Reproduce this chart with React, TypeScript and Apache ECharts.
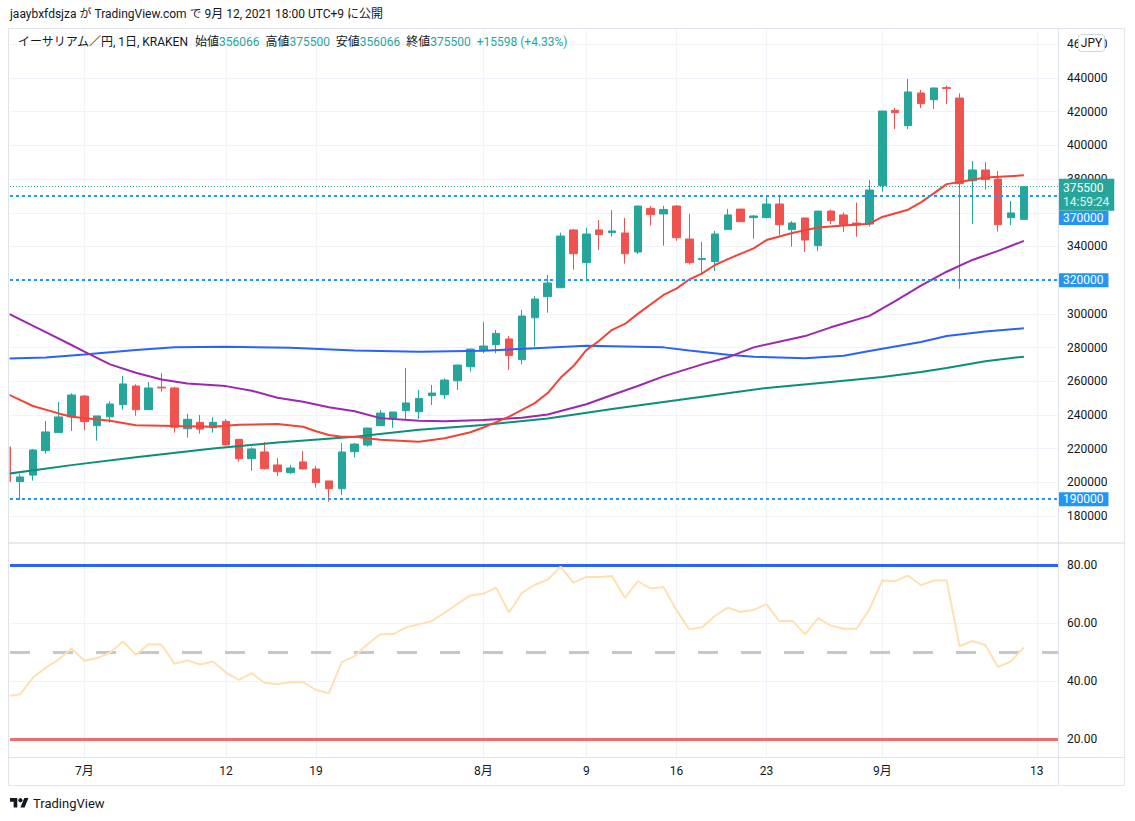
import React, { useEffect, useRef } from 'react';
import * as echarts from 'echarts';

const FONT = "Roboto, 'Noto Sans CJK JP', sans-serif";

// Day index k: 0 = 2021-06-25 ... 79 = 2021-09-12
const opens = [221000, 200400, 204300, 218800, 229500, 238900, 251200, 233600, 238900, 246100,
  257200, 243100, 256500, 256000, 231800, 235600, 232400, 236200, 225500, 214000,
  218000, 210300, 205700, 212100, 207900, 200800, 196200, 218200, 222100, 233600,
  237800, 242500, 241900, 251400, 252000, 260300, 268600, 278500, 281700, 285100,
  272800, 297700, 310200, 315500, 349800, 330400, 349800, 348200, 348000, 336700,
  362600, 359300, 364000, 344400, 332200, 331000, 350000, 362200, 357100, 357100,
  365200, 350000, 356900, 340500, 361000, 358700, 353900, 353300, 376100, 420800,
  411700, 431100, 427100, 434300, 428100, 379000, 385400, 380000, 357100, 356066];
const closes = [200400, 203200, 219200, 229900, 238800, 251800, 236000, 239400, 246500, 258400,
  243100, 256000, 256000, 232700, 237400, 231600, 235600, 222200, 214000, 219800,
  208100, 206300, 208500, 207900, 199800, 196200, 218000, 222700, 232200, 241100,
  241700, 247100, 249800, 253000, 260700, 269600, 279100, 280900, 288400, 275200,
  298700, 308800, 318300, 346200, 335700, 347400, 347000, 349200, 335700, 364000,
  358900, 362000, 345200, 330400, 332800, 347400, 358700, 354700, 358100, 365200,
  352900, 353900, 343800, 361000, 355300, 352900, 352700, 373500, 420400, 419400,
  431700, 424800, 434100, 433700, 377300, 385400, 379700, 352900, 359902, 375500];
const lows = [200000, 189500, 201000, 217000, 229500, 230500, 231000, 224700, 235400, 243100,
  239500, 243100, 253800, 229500, 226500, 228900, 229500, 221600, 212200, 206900,
  207500, 203700, 204800, 207500, 196800, 188500, 192500, 214800, 221200, 233600,
  232400, 237600, 237600, 245900, 249500, 254800, 265700, 276600, 276600, 266700,
  270000, 280500, 300700, 315500, 326200, 320300, 337900, 345800, 329800, 335500,
  352300, 340500, 343400, 329200, 324100, 325600, 350000, 354700, 344600, 356700,
  346800, 339900, 336700, 337300, 353300, 348600, 345800, 351800, 372500, 409700,
  409700, 422200, 421600, 424600, 314900, 353300, 373700, 348800, 352700, 356066];
const highs = [221500, 205000, 219800, 236400, 247700, 252800, 251800, 239400, 248100, 263100,
  258200, 259500, 264900, 256800, 240600, 240000, 238600, 237600, 225500, 220800,
  223900, 214400, 210300, 218600, 209700, 200800, 223300, 223300, 232300, 242900,
  241800, 267900, 254800, 257800, 261700, 269700, 279200, 295200, 290400, 286900,
  302300, 310600, 323100, 348200, 350400, 351000, 355700, 361600, 356900, 364100,
  364100, 364100, 364600, 359300, 342700, 349200, 362300, 362300, 358700, 370200,
  369600, 355100, 356900, 361100, 361800, 360100, 366000, 379500, 420500, 422200,
  439400, 432900, 434100, 435500, 430900, 390700, 390100, 384800, 367000, 375500];

const ma20Days = [0, 2, 4, 5, 8, 10, 13, 16, 18, 21, 23, 24, 25, 26, 27, 29, 32, 34, 36, 37,
  39, 41, 42, 43, 44, 45, 46, 47, 48, 49, 51, 52, 53, 54, 55, 56, 58, 59, 61, 63,
  65, 67, 68, 70, 71, 72, 73, 74, 76, 79];
const ma20Vals = [252500, 245300, 240900, 238960, 236500, 233900, 233400, 233000, 234100, 234600,
  233000, 230300, 228100, 227100, 227000, 225200, 224100, 226100, 229700, 232500,
  239000, 247000, 253000, 262000, 269000, 278500, 284000, 290500, 294000, 300000,
  311200, 315000, 320400, 324000, 329000, 332500, 338900, 343800, 348000, 351200,
  352500, 353500, 357500, 361800, 366200, 371500, 377000, 378300, 380900, 382200];
const ma50Days = [0, 3, 5, 6, 8, 10, 12, 14, 17, 19, 21, 23, 25, 27, 29, 32, 34, 37, 40, 42,
  45, 47, 49, 51, 54, 56, 58, 62, 64, 67, 69, 71, 73, 75, 77, 79];
const ma50Vals = [300500, 289100, 281500, 277600, 270000, 265000, 261000, 258700, 257100, 254400,
  250200, 247800, 244600, 242200, 238100, 236600, 236200, 237000, 238300, 240300,
  246300, 251800, 257200, 262900, 270000, 274200, 280100, 286800, 292000, 298800,
  307500, 316700, 325000, 332000, 337400, 343300];
const ma100Days = [0, 3, 6, 10, 13, 17, 22, 27, 32, 37, 41, 45, 49, 51, 53, 56, 58, 62, 65, 67, 71, 73, 76, 79];
const ma100Vals = [273500, 274100, 275800, 278600, 280100, 280500, 279900, 278300, 277500, 278100,
  279600, 281100, 280500, 280100, 278300, 275700, 274600, 273600, 275100, 278000,
  283300, 286800, 289500, 291400];
const ma200Days = [0, 5, 10, 16, 21, 27, 32, 37, 42, 47, 54, 59, 64, 68, 71, 73, 76, 79];
const ma200Vals = [205000, 210200, 214900, 220000, 223700, 227100, 231200, 234000, 237900, 243500,
  250800, 256000, 259600, 262500, 265500, 267800, 271900, 274600];

const rsiValues = [34.7, 35.4, 41.1, 44.6, 47.4, 51.2, 47.0, 47.9, 49.8, 53.6,
  49.1, 52.7, 52.6, 45.9, 47.1, 45.7, 46.7, 42.9, 40.4, 42.7,
  39.4, 38.9, 39.6, 39.6, 36.9, 35.8, 46.5, 48.6, 52.7, 56.1,
  56.2, 58.5, 59.6, 60.7, 63.6, 66.6, 69.5, 70.1, 72.2, 63.6,
  70.4, 73.2, 74.9, 79.4, 73.9, 75.9, 75.9, 76.2, 68.7, 74.4,
  71.9, 72.4, 64.5, 57.8, 58.5, 62.5, 65.3, 63.8, 64.5, 66.5,
  60.6, 60.8, 56.1, 61.7, 59.1, 58.0, 58.0, 64.8, 74.7, 74.4,
  76.4, 73.0, 74.7, 74.7, 52.0, 53.8, 52.4, 44.8, 46.8, 51.6];

// gridline levels; labels hidden under the price badges are left out of priceLabelTicks
const priceTicks = [180000, 200000, 220000, 240000, 260000, 280000, 300000, 320000, 340000,
  360000, 380000, 400000, 420000, 440000, 460000];
const priceLabelTicks = [180000, 200000, 220000, 240000, 260000, 280000, 300000, 340000,
  380000, 400000, 420000, 440000, 460000];
const rsiTicks = [20, 40, 60, 80];
const timeTickDays = [6, 17, 24, 37, 45, 52, 59, 68, 80];
const timeTickLabels = ['7月', '12', '19', '8月', '9', '16', '23', '9月', '13'];
const levelLines = [370000, 320000, 190000];
const levelOffsets = [22, 0, 0];
const lastPrice = 375500;
const countdown = '14:59:24';
const rsiUpper = 80;
const rsiMiddle = 50;
const rsiLower = 20;

const TV_LOGO = 'M14 22H7V11H0V4h14v18zM28 22h-8l7.5-18h8L28 22z';

export default function App() {
  const ref = useRef<HTMLDivElement>(null);
  useEffect(() => {
    if (!ref.current) return;
    echarts.graphic.registerShape('tvlogo', (echarts.graphic as any).extendPath(TV_LOGO, {}));
    const chart = echarts.init(ref.current, null, { renderer: 'svg' });
    const candleData = opens.map((o, k) => [k, o, closes[k], lows[k], highs[k]]);
    const pts = (days: number[], vals: number[]) => days.map((d, j) => [d, vals[j]]);
    const xMin = 0.223;
    const xMax = 81.65;
    const grid = '#f0f3fa';

    const option: any = {
      animation: false,
      backgroundColor: '#ffffff',
      textStyle: { fontFamily: FONT },
      grid: [
        { left: 10, top: 30, width: 1048, height: 513 },
        { left: 10, top: 543, width: 1048, height: 214 },
      ],
      xAxis: [
        { type: 'value', gridIndex: 0, min: xMin, max: xMax, show: false },
        {
          type: 'value', gridIndex: 1, min: xMin, max: xMax,
          axisLine: { show: false }, axisTick: { show: false }, splitLine: { show: false },
          axisLabel: {
            customValues: timeTickDays,
            formatter: (v: number) => {
              const j = timeTickDays.indexOf(Math.round(v));
              return j >= 0 ? timeTickLabels[j] : '';
            },
            color: '#131722', fontSize: 12, margin: 8, fontFamily: FONT,
          },
        },
      ],
      yAxis: [
        {
          type: 'value', gridIndex: 0, position: 'right', min: 163972, max: 468494,
          axisLine: { show: false }, axisTick: { show: false }, splitLine: { show: false },
          axisLabel: {
            customValues: priceLabelTicks, formatter: (v: number) => String(Math.round(v)),
            color: '#131722', fontSize: 12, margin: 9, fontFamily: FONT,
          },
        },
        {
          type: 'value', gridIndex: 1, position: 'right', min: 13.79, max: 87.59,
          axisLine: { show: false }, axisTick: { show: false }, splitLine: { show: false },
          axisLabel: {
            customValues: rsiTicks, formatter: (v: number) => v.toFixed(2),
            color: '#131722', fontSize: 12, margin: 9, fontFamily: FONT,
          },
        },
      ],
      series: [
        {
          type: 'line', xAxisIndex: 0, yAxisIndex: 0, data: [], silent: true, z: 1,
          markLine: {
            silent: true, z: 1, symbol: ['none', 'none'], label: { show: false },
            lineStyle: { color: grid, width: 1, type: 'solid' },
            data: [...priceTicks.map((v) => ({ yAxis: v })), ...timeTickDays.map((d) => ({ xAxis: d }))],
          },
        },
        {
          type: 'line', xAxisIndex: 1, yAxisIndex: 1, data: [], silent: true, z: 1,
          markLine: {
            silent: true, z: 1, symbol: ['none', 'none'], label: { show: false },
            lineStyle: { color: grid, width: 1, type: 'solid' },
            data: [...rsiTicks.map((v) => ({ yAxis: v })), ...timeTickDays.map((d) => ({ xAxis: d }))],
          },
        },
        {
          type: 'candlestick', xAxisIndex: 0, yAxisIndex: 0, data: candleData, barWidth: 8, z: 3, clip: true,
          itemStyle: { color: '#26a69a', color0: '#ef5350', borderColor: '#26a69a', borderColor0: '#ef5350', borderWidth: 1 },
        },
        { type: 'line', xAxisIndex: 0, yAxisIndex: 0, data: pts(ma200Days, ma200Vals), symbol: 'none', z: 4, lineStyle: { color: '#0a8f7a', width: 2 } },
        { type: 'line', xAxisIndex: 0, yAxisIndex: 0, data: pts(ma100Days, ma100Vals), symbol: 'none', z: 4, lineStyle: { color: '#2962ff', width: 2 } },
        { type: 'line', xAxisIndex: 0, yAxisIndex: 0, data: pts(ma50Days, ma50Vals), symbol: 'none', z: 4, lineStyle: { color: '#9c27b0', width: 2 } },
        { type: 'line', xAxisIndex: 0, yAxisIndex: 0, data: pts(ma20Days, ma20Vals), symbol: 'none', z: 4, lineStyle: { color: '#f44336', width: 2 } },
        {
          type: 'line', xAxisIndex: 0, yAxisIndex: 0, data: [], silent: true, z: 6,
          markLine: {
            silent: true, z: 6, symbol: ['none', 'none'],
            data: [
              {
                yAxis: lastPrice,
                lineStyle: { color: '#26a69a', width: 1, type: [1, 2] },
                label: {
                  show: true, position: 'end', distance: 0, offset: [0, 8],
                  formatter: `{a|${lastPrice}}\n{b|${countdown}}`,
                  backgroundColor: '#26a69a', padding: [2, 5, 2, 5],
                  rich: {
                    a: { color: '#ffffff', fontSize: 12, lineHeight: 14, fontFamily: FONT },
                    b: { color: '#e0f2f1', fontSize: 12, lineHeight: 14, fontFamily: FONT },
                  },
                },
              },
              ...levelLines.map((v, j) => ({
                yAxis: v,
                lineStyle: { color: '#2196f3', width: 2, type: [3, 3] },
                label: {
                  show: true, position: 'end', distance: 0, offset: [0, levelOffsets[j]],
                  formatter: String(v), backgroundColor: '#2196f3', color: '#ffffff',
                  padding: [1, 5, 0, 5], fontSize: 12, lineHeight: 13, fontFamily: FONT,
                },
              })),
            ],
          },
        },
        {
          type: 'line', xAxisIndex: 1, yAxisIndex: 1, data: [], silent: true, z: 2,
          markLine: {
            silent: true, z: 2, symbol: ['none', 'none'], label: { show: false },
            data: [
              { yAxis: rsiUpper, lineStyle: { color: '#2962ff', width: 3, type: 'solid' } },
              { yAxis: rsiMiddle, lineStyle: { color: '#c5c7cb', width: 3, type: [20, 23] } },
              { yAxis: rsiLower, lineStyle: { color: '#f26b6b', width: 3, type: 'solid' } },
            ],
          },
        },
        {
          type: 'line', xAxisIndex: 1, yAxisIndex: 1, data: rsiValues.map((v, k) => [k, v]),
          symbol: 'none', z: 4, lineStyle: { color: '#ffe0b2', width: 2 },
        },
      ],
      graphic: [
        { type: 'rect', z: 40, silent: true, shape: { x: 0, y: 29, width: 9.6, height: 728 }, style: { fill: '#ffffff' } },
        { type: 'rect', z: 50, silent: true, shape: { x: 8.5, y: 28.5, width: 1116, height: 757 }, style: { fill: 'none', stroke: '#e0e3eb', lineWidth: 1 } },
        { type: 'line', z: 50, silent: true, shape: { x1: 8, y1: 543, x2: 1125, y2: 543 }, style: { stroke: '#e0e3eb', lineWidth: 1.5 } },
        { type: 'line', z: 50, silent: true, shape: { x1: 8, y1: 757.5, x2: 1125, y2: 757.5 }, style: { stroke: '#e0e3eb', lineWidth: 1 } },
        { type: 'line', z: 50, silent: true, shape: { x1: 1058.5, y1: 28, x2: 1058.5, y2: 786 }, style: { stroke: '#e0e3eb', lineWidth: 1 } },
        {
          type: 'text', z: 60, x: 10, y: 14, silent: true,
          style: { text: 'jaaybxfdsjza が TradingView.com で 9月 12, 2021 18:00 UTC+9 に公開', fill: '#131722', font: `12px ${FONT}`, verticalAlign: 'middle' },
        },
        {
          type: 'text', z: 60, x: 18, y: 42, silent: true,
          style: {
            text: '{d|イーサリアム／円, 1日, KRAKEN}  {d|始値}{g|356066}  {d|高値}{g|375500}  {d|安値}{g|356066}  {d|終値}{g|375500}  {g|+15598 (+4.33%)}',
            font: `12px ${FONT}`, verticalAlign: 'middle',
            rich: {
              d: { fill: '#131722', fontSize: 12, fontFamily: FONT },
              g: { fill: '#26a69a', fontSize: 12, fontFamily: FONT },
            },
          },
        },
        { type: 'rect', z: 100, silent: true, shape: { x: 1078.5, y: 34.5, width: 26, height: 17, r: 3 }, style: { fill: '#ffffff', stroke: '#d1d4dc', lineWidth: 1 } },
        { type: 'text', z: 101, silent: true, x: 1091.5, y: 43, style: { text: 'JPY', fill: '#131722', font: `12px ${FONT}`, align: 'center', verticalAlign: 'middle' } },
        { type: 'tvlogo', z: 60, silent: true, x: 10, y: 796, scaleX: 0.52, scaleY: 0.52, style: { fill: '#131722' } },
        { type: 'circle', z: 60, silent: true, shape: { cx: 20.4, cy: 800.2, r: 2.1 }, style: { fill: '#131722' } },
        { type: 'text', z: 60, silent: true, x: 33, y: 803, style: { text: 'TradingView', fill: '#131722', font: `13px ${FONT}`, verticalAlign: 'middle' } },
      ],
    };
    chart.setOption(option);
    return () => chart.dispose();
  }, []);
  return <div ref={ref} style={{ position: 'fixed', left: 0, top: 0, width: 1135, height: 821, background: '#ffffff' }} />;
}
